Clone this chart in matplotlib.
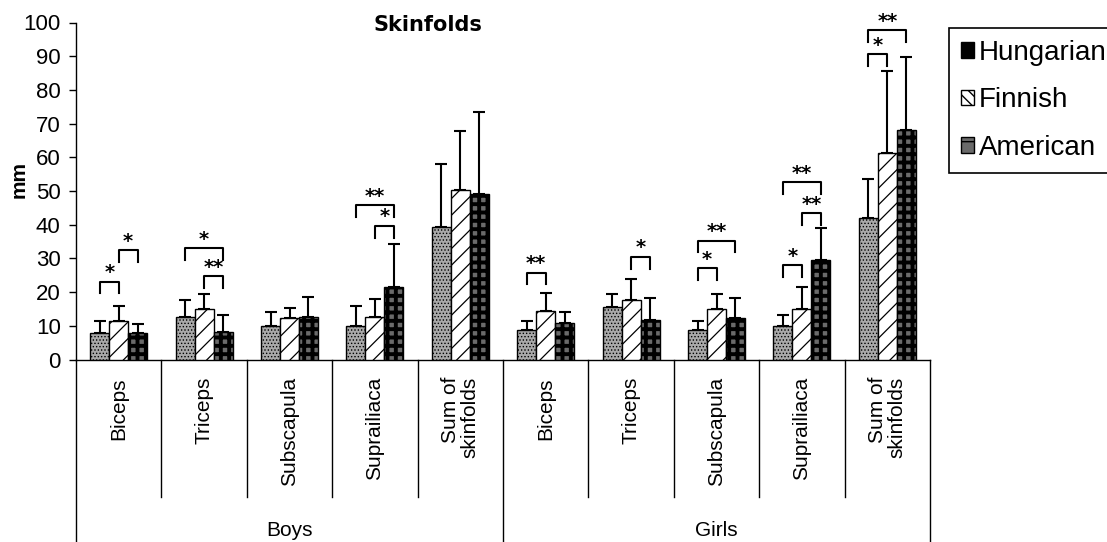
import matplotlib.pyplot as plt
import numpy as np
from matplotlib.patches import Patch

plt.rcParams['font.family'] = ['Liberation Sans', 'DejaVu Sans']

categories = ['Biceps', 'Triceps', 'Subscapula', 'Suprailiaca', 'Sum of\nskinfolds'] * 2
groups = ['Boys', 'Girls']
series = ['Hungarian', 'Finnish', 'American']

hungarian = [7.8, 12.7, 10.0, 10.0, 39.2, 8.8, 15.5, 8.8, 9.9, 41.9]
hungarian_sd = [3.6, 4.9, 4.1, 5.8, 18.8, 2.7, 3.8, 2.7, 3.3, 11.6]
finnish = [11.4, 14.9, 12.2, 12.7, 50.3, 14.4, 17.6, 14.9, 14.9, 61.2]
finnish_sd = [4.4, 4.4, 3.2, 5.4, 17.6, 5.4, 6.2, 4.4, 6.7, 24.4]
american = [7.8, 8.2, 12.7, 21.6, 49.1, 10.7, 11.7, 12.2, 29.4, 68.1]
american_sd = [2.6, 5.0, 5.9, 12.6, 24.3, 3.5, 6.5, 6.0, 9.7, 21.8]

# significance brackets: (category, from series, to series, height, mark)
brackets = [
    (0, 0, 1, 23.1, '*'), (0, 1, 2, 32.5, '*'),
    (1, 0, 2, 33.0, '*'), (1, 1, 2, 24.8, '**'),
    (3, 0, 2, 45.8, '**'), (3, 1, 2, 39.7, '*'),
    (5, 0, 1, 25.8, '**'),
    (6, 1, 2, 30.5, '*'),
    (7, 0, 1, 27.1, '*'), (7, 0, 2, 35.3, '**'),
    (8, 0, 1, 28.0, '*'), (8, 1, 2, 43.4, '**'), (8, 0, 2, 52.6, '**'),
    (9, 0, 1, 90.7, '*'), (9, 0, 2, 97.8, '**'),
]

W, H = 1107, 542
fig = plt.figure(figsize=(W / 100, H / 100), dpi=100, facecolor='w')
ax = fig.add_axes([76 / W, (H - 359.5) / H, 854 / W, 337 / H])

x = np.arange(len(categories))
bw = 0.222
styles = [
    dict(facecolor='#a9a9a9', hatch='.....'),
    dict(facecolor='white', hatch='//'),
    dict(facecolor='#6a6a6a', hatch='++'),
]
hatch_lw = [0.6, 0.9, 2.8]
values = [hungarian, finnish, american]
sds = [hungarian_sd, finnish_sd, american_sd]

for i in range(3):
    pos = x + (i - 1) * bw
    with plt.rc_context({'hatch.linewidth': hatch_lw[i]}):
        ax.bar(pos, values[i], bw, edgecolor='black', linewidth=1.0, zorder=3, **styles[i])
    ax.errorbar(pos, values[i], yerr=[np.zeros(len(x)), sds[i]], fmt='none',
                ecolor='black', elinewidth=1.5, capsize=4, capthick=1.5, zorder=2)

for c, a, b, y, mark in brackets:
    x0 = c + (a - 1) * bw
    x1 = c + (b - 1) * bw
    ax.plot([x0, x0, x1, x1], [y - 3.5, y, y, y - 3.5], color='black', lw=1.5,
            clip_on=False, zorder=4)
    ax.text((x0 + x1) / 2, y + 2.6, mark, ha='center', va='center',
            fontsize=14, fontweight='bold', family='DejaVu Sans')

ax.set_xlim(-0.5, 9.5)
ax.set_ylim(0, 100)
ax.set_yticks(np.arange(0, 101, 10))
ax.tick_params(axis='y', length=5, width=1, labelsize=16, pad=6)
ax.set_xticks([])
for s in ['top', 'right']:
    ax.spines[s].set_visible(False)
ax.spines['left'].set_linewidth(1)
ax.spines['bottom'].set_linewidth(1)

# category table below the axis
tr = ax.get_xaxis_transform()
for k in range(11):
    xb = k - 0.5
    if k in (0, 5, 10):
        ax.plot([xb, xb], [0, -0.6], color='black', lw=1, transform=tr, clip_on=False)
    else:
        ax.plot([xb, xb], [0, -0.407], color='black', lw=1, transform=tr, clip_on=False)
for k, lab in enumerate(categories):
    ax.text(k, -0.052, lab, rotation=90, ha='center', va='top', multialignment='right',
            fontsize=15, transform=tr, linespacing=1.0)
for g, name in enumerate(groups):
    ax.text(g * 5 + 2, -0.506, name, ha='center', va='center', fontsize=15,
            transform=tr, family=['Liberation Sans Narrow', 'Liberation Sans'])

fig.text(428 / W, 1 - 25 / H, 'Skinfolds', ha='center', va='center', fontsize=15,
         fontweight='bold', family='DejaVu Sans')
fig.text(19 / W, 1 - 180 / H, 'mm', ha='center', va='center', rotation=90,
         fontsize=15, fontweight='bold')

handles = [
    Patch(facecolor='black', edgecolor='black'),
    Patch(facecolor='white', edgecolor='black', hatch='\\\\\\'),
    Patch(facecolor='#6a6a6a', edgecolor='black', hatch='+'),
]
leg = fig.legend(handles, series, loc='upper left', bbox_to_anchor=(949 / W, 1 - 28 / H),
                 frameon=True, fancybox=False, edgecolor='black', framealpha=1,
                 borderaxespad=0, borderpad=0.42, handlelength=0.48, handleheight=0.48,
                 handletextpad=0.18, labelspacing=0.78, fontsize=20)
leg.get_frame().set_linewidth(1.2)

fig.savefig('out.png', dpi=100)
